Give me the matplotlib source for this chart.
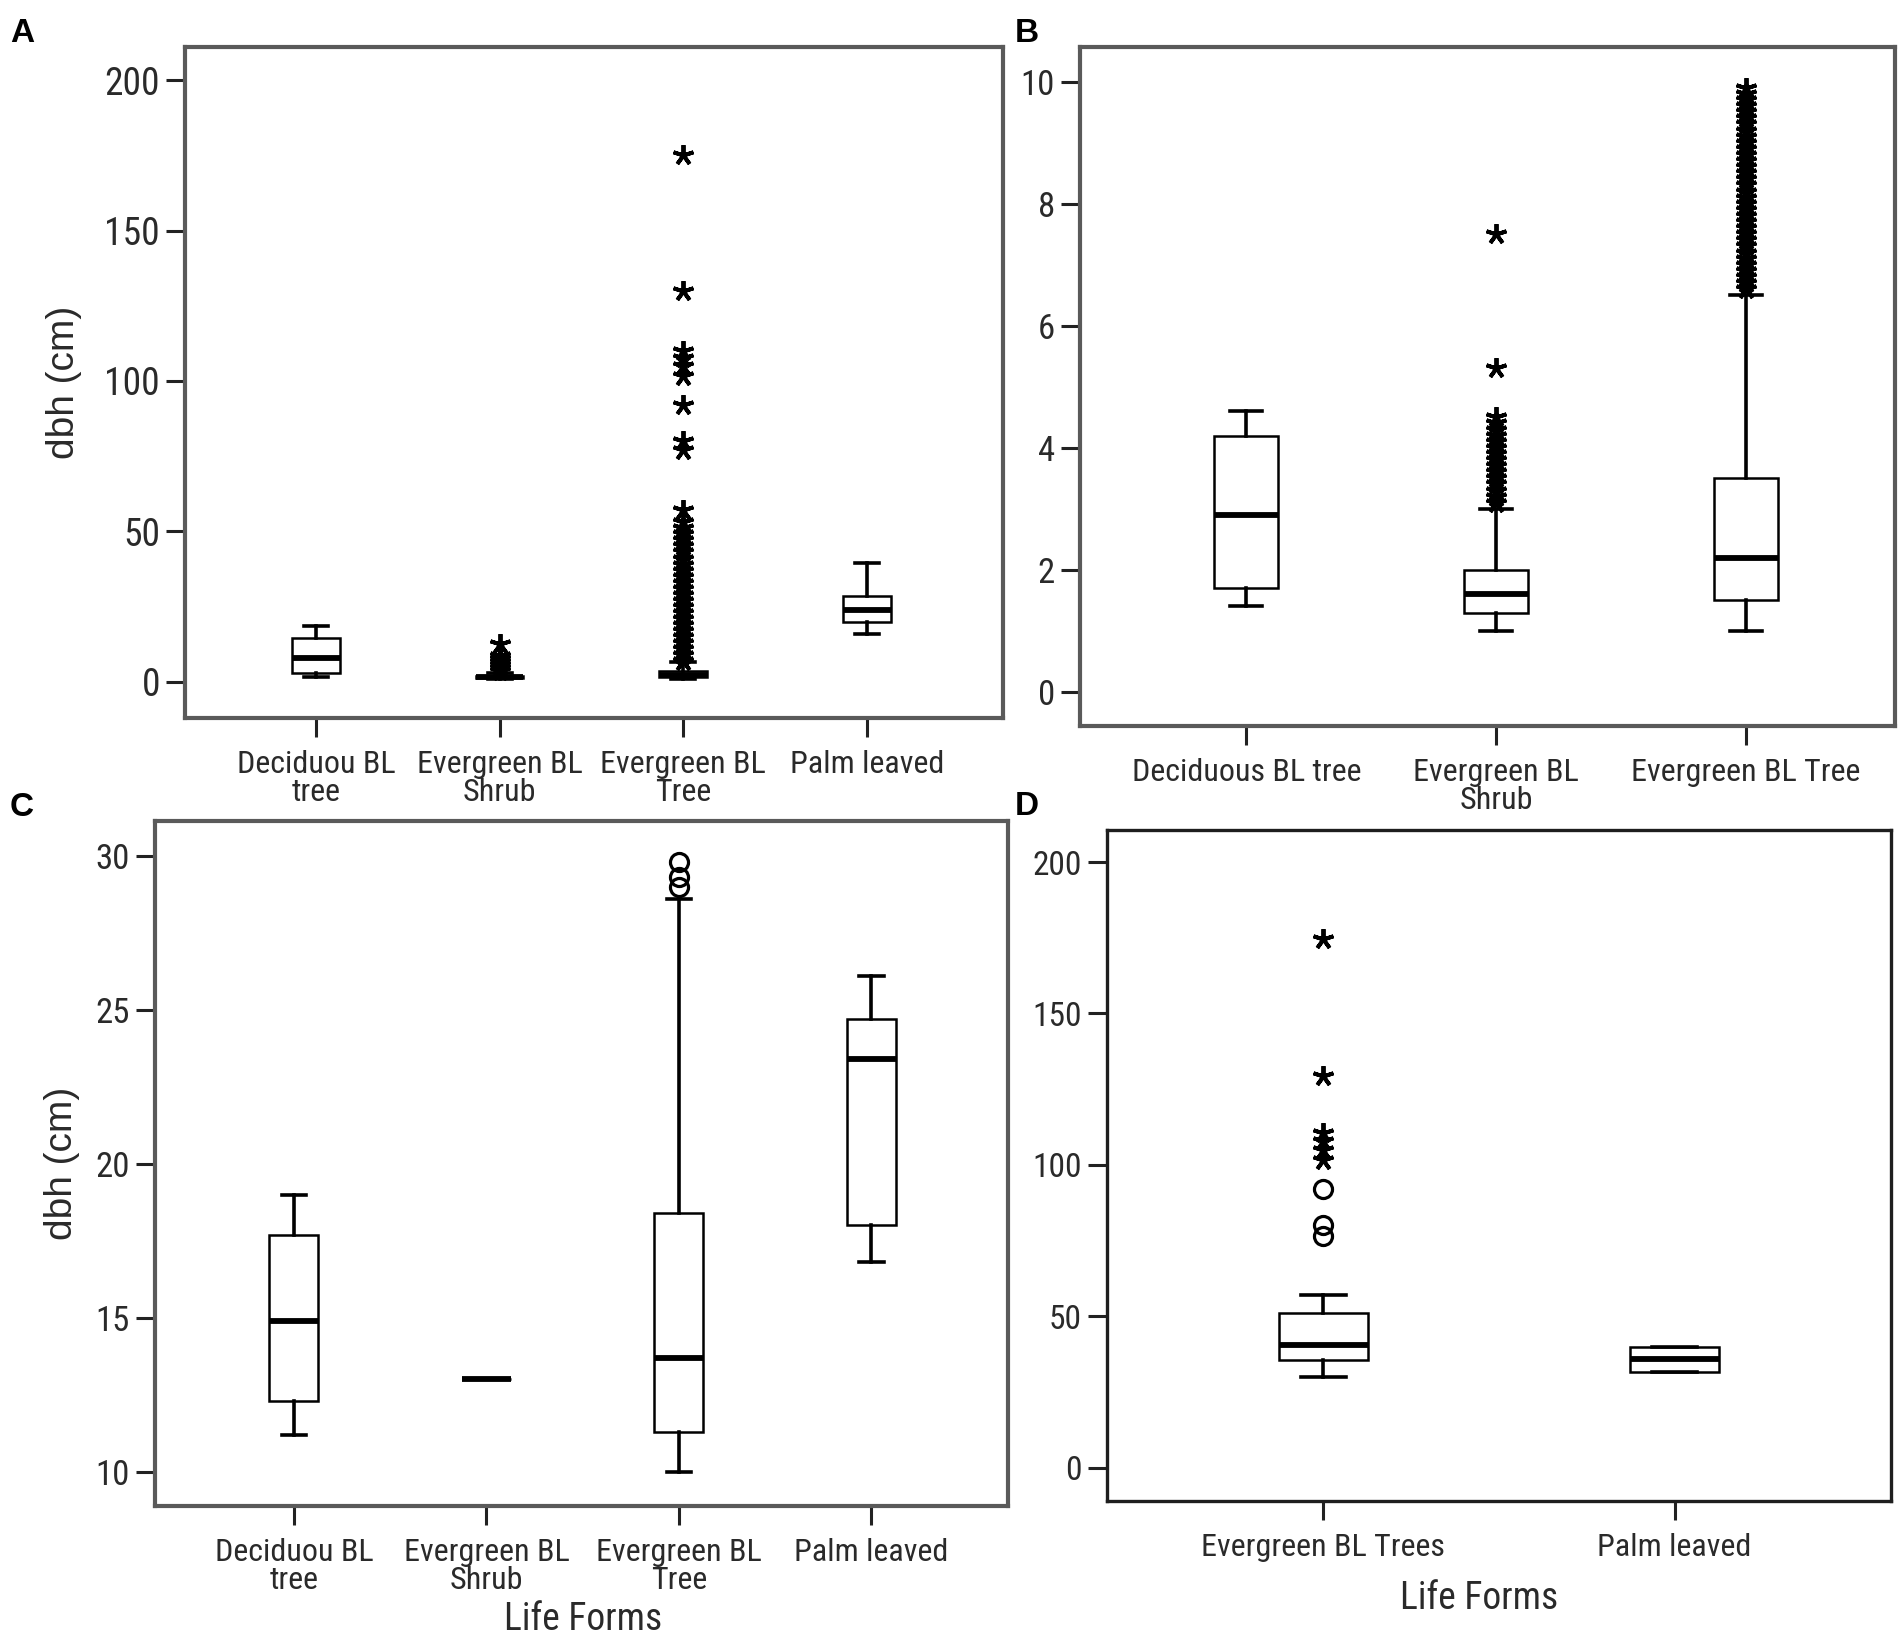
import matplotlib
matplotlib.use("Agg")
import matplotlib.pyplot as plt
from matplotlib import font_manager
import numpy as np

_installed = {f.name for f in font_manager.fontManager.ttflist}
_cands = ["Liberation Sans Narrow", "Roboto Condensed", "DejaVu Sans Condensed",
          "Open Sans Condensed", "Noto Sans Condensed"]
_narrow = [c for c in _cands if c in _installed]
NARROW = (_narrow[:1] if _narrow else []) + ["Liberation Sans", "DejaVu Sans"]
HAS_NARROW = bool(_narrow)
REG = ["Liberation Sans", "DejaVu Sans"]
BOLD = ["Liberation Sans", "DejaVu Sans"]

# ---------------- Panel A ----------------
A_labels = ["Deciduou BL\ntree", "Evergreen BL\nShrub", "Evergreen BL\nTree", "Palm leaved"]
A_whislo = [1.5, 1.0, 1.0, 16.0]
A_q1 = [3.0, 1.3, 1.5, 20.0]
A_med = [8.0, 1.6, 2.2, 24.0]
A_q3 = [14.5, 2.0, 3.5, 28.5]
A_whishi = [18.5, 3.0, 6.5, 39.5]
A_shrub_out = [3.5, 4.5, 5.5, 6.5, 7.5, 8.5, 12.5]
A_tree_out = [7, 9, 11, 13, 15, 17, 19, 21, 23, 25, 27, 29, 31, 33, 35, 37, 39, 41,
              43, 45, 47, 49, 51, 53, 57, 77, 80, 92, 101.5, 105, 107.5, 110, 130, 175]
A_yticks = [0, 50, 100, 150, 200]

# ---------------- Panel B ----------------
B_labels = ["Deciduous BL tree", "Evergreen BL\nShrub", "Evergreen BL Tree"]
B_whislo = [1.4, 1.0, 1.0]
B_q1 = [1.7, 1.3, 1.5]
B_med = [2.9, 1.6, 2.2]
B_q3 = [4.2, 2.0, 3.5]
B_whishi = [4.6, 3.0, 6.5]
B_shrub_out = [3.1, 3.2, 3.3, 3.4, 3.5, 3.6, 3.7, 3.8, 3.9, 4.0, 4.1, 4.2, 4.3, 4.4,
               4.5, 5.3, 7.5]
B_tree_out = [6.6, 6.7, 6.8, 6.9, 7.0, 7.1, 7.2, 7.3, 7.4, 7.5, 7.6, 7.7, 7.8, 7.9,
              8.0, 8.1, 8.2, 8.3, 8.4, 8.5, 8.6, 8.7, 8.8, 8.9, 9.0, 9.1, 9.2, 9.3,
              9.4, 9.5, 9.6, 9.7, 9.8, 9.9]
B_yticks = [0, 2, 4, 6, 8, 10]

# ---------------- Panel C ----------------
C_labels = ["Deciduou BL\ntree", "Evergreen BL\nShrub", "Evergreen BL\nTree", "Palm leaved"]
C_whislo = [11.2, 13.0, 10.0, 16.8]
C_q1 = [12.3, 13.0, 11.3, 18.0]
C_med = [14.9, 13.0, 13.7, 23.4]
C_q3 = [17.7, 13.0, 18.4, 24.7]
C_whishi = [19.0, 13.0, 28.6, 26.1]
C_tree_circles = [29.0, 29.3, 29.8]
C_yticks = [10, 15, 20, 25, 30]

# ---------------- Panel D ----------------
D_labels = ["Evergreen BL Trees", "Palm leaved"]
D_whislo = [30.0, 31.5]
D_q1 = [35.5, 31.5]
D_med = [40.5, 36.0]
D_q3 = [51.0, 40.0]
D_whishi = [57.0, 40.0]
D_tree_circles = [76.5, 80.0, 92.0]
D_tree_stars = [101.5, 105.0, 108.0, 110.5, 129.5, 174.5]
D_yticks = [0, 50, 100, 150, 200]

k = 1.0 if HAS_NARROW else 0.82
XT = 23 * k
XL = 27 * k

fig = plt.figure(figsize=(19.04, 16.37), dpi=100)

STAR = dict(ls="none", marker=(5, 2, 0), ms=15, mew=2.8, color="black", zorder=6)
CIRC = dict(ls="none", marker="o", ms=13, mew=2.3, mfc="none", mec="black", zorder=6)


def panel(rect, labels, whislo, q1, med, q3, whishi, xlim, ylim, yticks,
          width, spine_color, spine_lw, ytsize):
    ax = fig.add_axes(rect)
    pos = np.arange(1, len(labels) + 1)
    stats = [dict(whislo=a, q1=b, med=c, q3=d, whishi=e)
             for a, b, c, d, e in zip(whislo, q1, med, q3, whishi)]
    ax.bxp(stats, positions=pos, widths=width, capwidths=width * 0.5,
           showfliers=False, patch_artist=True,
           boxprops=dict(facecolor="white", edgecolor="black", linewidth=1.8),
           medianprops=dict(color="black", linewidth=4.2, solid_capstyle="butt"),
           whiskerprops=dict(color="black", linewidth=2.6),
           capprops=dict(color="black", linewidth=2.6))
    ax.set_xlim(*xlim)
    ax.set_ylim(*ylim)
    ax.set_xticks(pos)
    ax.set_xticklabels(labels, fontfamily=NARROW, fontsize=XT, linespacing=0.95,
                       color="#2a2a2a")
    ax.set_yticks(yticks)
    ax.set_yticklabels([str(t) for t in yticks], fontfamily=NARROW,
                       fontsize=ytsize * k, color="#2a2a2a")
    ax.tick_params(axis="x", direction="out", length=14, width=2.2, pad=9,
                   color="#222222")
    ax.tick_params(axis="y", direction="out", length=14, width=2.2, pad=4,
                   color="#222222")
    for s in ax.spines.values():
        s.set_color(spine_color)
        s.set_linewidth(spine_lw)
    return ax, pos


# Panel A
axA, pA = panel([0.0972, 0.5614, 0.4296, 0.4099], A_labels, A_whislo, A_q1, A_med,
                A_q3, A_whishi, (0.288, 4.74), (-12, 211), A_yticks, 0.26,
                "#5a5a5a", 3.0, 27)
axA.plot([pA[1]] * len(A_shrub_out), A_shrub_out, **STAR)
axA.plot([pA[2]] * len(A_tree_out), A_tree_out, **STAR)
axA.set_ylabel("dbh (cm)", fontfamily=REG, fontsize=28, color="#2a2a2a")
axA.yaxis.set_label_coords(-0.126, 0.5)

# Panel B
axB, pB = panel([0.5672, 0.5565, 0.4281, 0.4148], B_labels, B_whislo, B_q1, B_med,
                B_q3, B_whishi, (0.334, 3.597), (-0.56, 10.57), B_yticks, 0.257,
                "#5a5a5a", 3.0, 25)
axB.plot([pB[1]] * len(B_shrub_out), B_shrub_out, **STAR)
axB.plot([pB[2]] * len(B_tree_out), B_tree_out, **STAR)

# Panel C
axC, pC = panel([0.0814, 0.0800, 0.4480, 0.4184], C_labels, C_whislo, C_q1, C_med,
                C_q3, C_whishi, (0.278, 4.71), (8.89, 31.13), C_yticks, 0.255,
                "#5a5a5a", 3.0, 25)
axC.plot([pC[2]] * len(C_tree_circles), C_tree_circles, **CIRC)
axC.set_ylabel("dbh (cm)", fontfamily=REG, fontsize=28, color="#2a2a2a")
axC.yaxis.set_label_coords(-0.088, 0.5)
axC.set_xlabel("Life Forms", fontfamily=NARROW, fontsize=XL, color="#2a2a2a")
axC.xaxis.set_label_coords(0.502, -0.181)

# Panel D
axD, pD = panel([0.5814, 0.0831, 0.4118, 0.4099], D_labels, D_whislo, D_q1, D_med,
                D_q3, D_whishi, (0.384, 2.616), (-11, 210.6), D_yticks, 0.253,
                "#1e1e1e", 2.4, 24)
axD.plot([pD[0]] * len(D_tree_circles), D_tree_circles, **CIRC)
axD.plot([pD[0]] * len(D_tree_stars), D_tree_stars, **STAR)
axD.set_xlabel("Life Forms", fontfamily=NARROW, fontsize=XL, color="#2a2a2a")
axD.xaxis.set_label_coords(0.474, -0.161)
axC.xaxis.label.set_va("baseline")
axD.xaxis.label.set_va("baseline")

# Panel letters
for letter, x, y in [("A", 10, 42), ("B", 1015, 42), ("C", 10, 816), ("D", 1015, 815)]:
    fig.text(x / 1904, 1 - y / 1637, letter, fontfamily=BOLD, fontweight="bold",
             fontsize=24, ha="left", va="baseline", color="black")

fig.savefig("out.png", dpi=100, facecolor="white")
